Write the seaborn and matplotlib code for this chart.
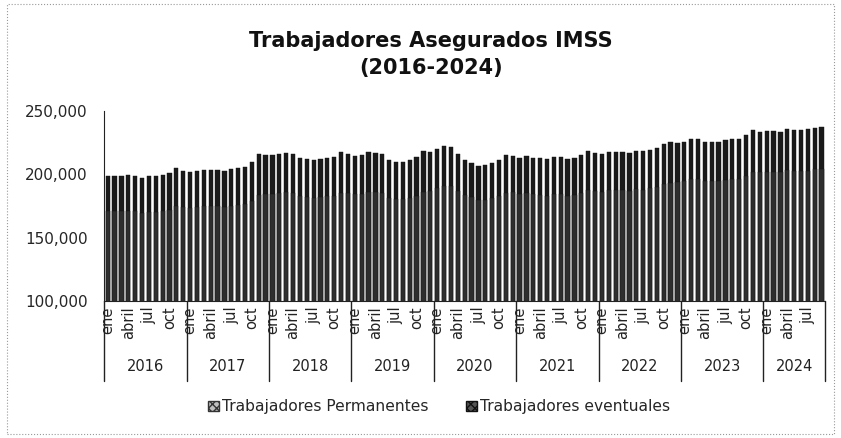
import numpy as np
import pandas as pd
import matplotlib.pyplot as plt
import seaborn as sns
from matplotlib.patches import Patch, Rectangle

# Datos
anios = ["2016", "2017", "2018", "2019", "2020", "2021", "2022", "2023", "2024"]
meses_por_anio = [12, 12, 12, 12, 12, 12, 12, 12, 9]
etiquetas_mes = {0: "ene", 3: "abril", 6: "jul", 9: "oct"}

totales = [
    198500, 198800, 198800, 199200, 198800, 197000, 198300, 198300, 199300, 200800, 204700, 202600,
    201800, 202600, 203400, 203400, 203400, 202400, 203900, 205000, 205800, 209700, 216300, 215000,
    215000, 215700, 217100, 216300, 213100, 211800, 211000, 211800, 213100, 213800, 217600, 216000,
    214400, 215000, 217600, 217100, 216300, 210800, 209700, 209700, 211000, 213600, 218400, 217800,
    219700, 222300, 221800, 216300, 211300, 208700, 206600, 207100, 208700, 210800, 215200, 214400,
    213100, 214400, 213100, 213100, 211800, 213600, 213800, 212000, 213100, 215000, 218400, 216500,
    215700, 217600, 217600, 217600, 217100, 218400, 218100, 219200, 221000, 223600, 225700, 224400,
    225500, 227600, 228100, 225500, 225500, 225500, 227000, 227600, 227600, 230700, 234900, 233600,
    234100, 234100, 233600, 236000, 234900, 234900, 235400, 236800, 237200,
]

eventuales = [
    27800, 27900, 28100, 28300, 28000, 27500, 27900, 28000, 28400, 28900, 30100, 28600,
    28200, 28500, 28800, 28900, 28700, 28300, 28800, 29300, 29600, 30800, 32600, 30900,
    30400, 30800, 31500, 31100, 30200, 29700, 29500, 29900, 30300, 30900, 32400, 31000,
    30100, 30500, 31600, 31400, 31000, 29400, 29100, 29200, 29800, 30600, 32200, 30800,
    30700, 31600, 31300, 29200, 27600, 26900, 26700, 27100, 27700, 28400, 29900, 28600,
    28700, 29100, 29000, 29200, 28900, 29400, 29600, 29100, 29400, 29800, 30900, 29500,
    29600, 30000, 30100, 30200, 30000, 30300, 30200, 30500, 30900, 31500, 32300, 30800,
    31000, 31500, 31600, 31100, 31000, 31000, 31300, 31500, 31500, 32200, 33400, 31900,
    32100, 32200, 32000, 32600, 32400, 32300, 32500, 32800, 32900,
]

df = pd.DataFrame({"n": np.arange(len(totales)), "total": totales, "eventuales": eventuales})
df["permanentes"] = df["total"] - df["eventuales"]

sns.set_style("white")
plt.rcParams["font.family"] = ["DejaVu Sans"]

col_perm = "#2e2e2e"
col_event = "#1a1a1a"

fig = plt.figure(figsize=(8.41, 4.38), dpi=100)
ax = fig.add_axes([0.124, 0.313, 0.857, 0.434])

# barras apiladas: total (eventuales arriba) y permanentes encima
sns.barplot(data=df, x="n", y="total", color=col_event, width=0.62, saturation=1, ax=ax)
sns.barplot(data=df, x="n", y="permanentes", color=col_perm, width=0.62, saturation=1, ax=ax)
for p in ax.patches:
    p.set_edgecolor("#111111")
    p.set_linewidth(0.3)

ax.set_ylim(100000, 250000)
ax.set_xlim(-0.5, len(totales) - 0.5)
ax.set_yticks([100000, 150000, 200000, 250000])
ax.yaxis.set_major_formatter(plt.FuncFormatter(lambda v, _: f"{v:,.0f}"))
ax.tick_params(axis="y", labelsize=11, length=4, direction="out", pad=8, color="#222222")
ax.set_xlabel("")
ax.set_ylabel("")
sns.despine(ax=ax, top=True, right=True)
ax.spines["left"].set_color("#222222")
ax.spines["bottom"].set_color("#222222")

# etiquetas de mes y separadores de año
pos, labs = [], []
inicio = 0
for anio, k in zip(anios, meses_por_anio):
    for m, lab in etiquetas_mes.items():
        if m < k:
            pos.append(inicio + m)
            labs.append(lab)
    ax.text(inicio + k / 2 - 0.5, -0.345, anio, transform=ax.get_xaxis_transform(),
            ha="center", va="center", fontsize=10.5, color="#222222")
    ax.plot([inicio - 0.5, inicio - 0.5], [0, -0.42], transform=ax.get_xaxis_transform(),
            color="#222222", lw=1.0, clip_on=False)
    inicio += k
ax.plot([inicio - 0.5, inicio - 0.5], [0, -0.42], transform=ax.get_xaxis_transform(),
        color="#222222", lw=1.0, clip_on=False)

ax.set_xticks(pos)
ax.set_xticklabels(labs, rotation=90, fontsize=10.5, color="#222222")
ax.tick_params(axis="x", length=0, pad=4)
ax.set_xticks(np.arange(len(totales)) - 0.5, minor=True)
ax.tick_params(axis="x", which="minor", length=3, color="#222222")

fig.suptitle("Trabajadores Asegurados IMSS\n(2016-2024)", x=0.512, y=0.93,
             fontsize=15, fontweight="bold", color="#111111", linespacing=1.45)

handles = [
    Patch(facecolor="#bdbdbd", edgecolor="#333333", hatch="xxxx", label="Trabajadores Permanentes"),
    Patch(facecolor="#555555", edgecolor="#111111", hatch="xxxx", label="Trabajadores eventuales"),
]
fig.legend(handles=handles, loc="center", bbox_to_anchor=(0.522, 0.071), ncol=2, frameon=False,
           fontsize=11.2, handlelength=0.7, handleheight=0.7, handletextpad=0.2, columnspacing=2.4)

# marco punteado del gráfico
fig.patches.append(Rectangle((0.008, 0.008), 0.984, 0.982, transform=fig.transFigure,
                             fill=False, ls=":", lw=0.8, ec="#999999"))

plt.savefig("out.png", dpi=100)
